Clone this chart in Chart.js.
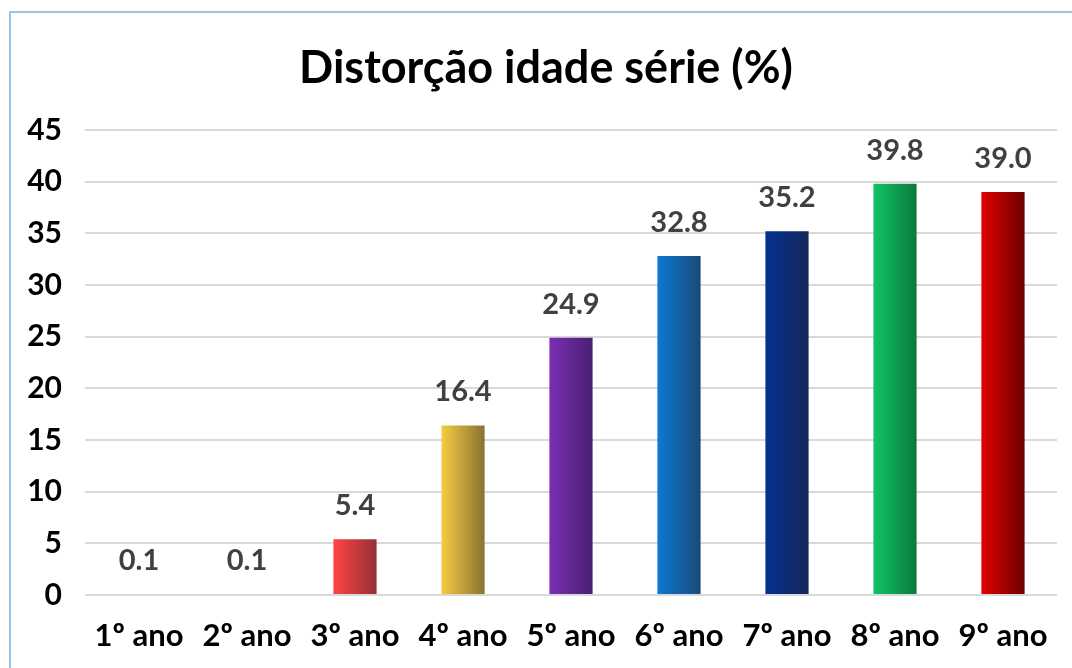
<!DOCTYPE html>
<html>
<head>
<meta charset="utf-8">
<script src="https://cdn.jsdelivr.net/npm/chart.js@4"></script>
<style>
  html, body { margin: 0; padding: 0; background: #fff; }
  #wrap { position: relative; width: 1072px; height: 668px; overflow: hidden; }
  #frame { position: absolute; left: 9px; top: 11px; width: 1100px; height: 700px; border: 2px solid #9dc3e6; box-sizing: border-box; }
  canvas { position: absolute; left: 0; top: 0; }
</style>
</head>
<body>
<div id="wrap">
  <div id="frame"></div>
  <canvas id="chart" width="1072" height="668"></canvas>
</div>
<script>
// chart data
const categories = ["1º ano", "2º ano", "3º ano", "4º ano", "5º ano", "6º ano", "7º ano", "8º ano", "9º ano"];
const values = [0.1, 0.1, 5.4, 16.4, 24.9, 32.8, 35.2, 39.8, 39.0];
const yTicks = [0, 5, 10, 15, 20, 25, 30, 35, 40, 45];

// bar gradient colours (left edge -> right edge)
const lightColors = ["#5b9bd5", "#5b9bd5", "#ff4444", "#f7cb45", "#7b2fb3", "#0a7ad2", "#04318f", "#12c466", "#e00000"];
const darkColors = ["#2e5f8f", "#2e5f8f", "#953034", "#8a7230", "#4a1f70", "#1a4a7a", "#16275c", "#0a7a3c", "#6e0000"];

const FONT = "Lato, 'Open Sans', sans-serif";

function barGradient(context) {
  const chart = context.chart;
  const i = context.dataIndex;
  if (!chart.chartArea || i === undefined) return lightColors[i || 0];
  const xScale = chart.scales.x;
  const cx = xScale.getPixelForValue(i);
  const half = (xScale.width / categories.length) * 0.4 / 2;
  const g = chart.ctx.createLinearGradient(cx - half, 0, cx + half, 0);
  g.addColorStop(0, lightColors[i]);
  g.addColorStop(1, darkColors[i]);
  return g;
}

// draws value labels above bars
const valueLabels = {
  id: "valueLabels",
  afterDatasetsDraw(chart) {
    const ctx = chart.ctx;
    const meta = chart.getDatasetMeta(0);
    ctx.save();
    ctx.font = "bold 29px " + FONT;
    ctx.fillStyle = "#404040";
    ctx.textAlign = "center";
    ctx.textBaseline = "bottom";
    meta.data.forEach((bar, i) => {
      ctx.fillText(values[i].toFixed(1), bar.x, bar.y - 19);
    });
    ctx.restore();
  },
};

// centre the title a bit further right, as in the original
const shiftTitle = {
  id: "shiftTitle",
  afterLayout(chart) {
    if (chart.titleBlock) chart.titleBlock.left += 35;
  },
};

const ctx = document.getElementById("chart").getContext("2d");

new Chart(ctx, {
  type: "bar",
  data: {
    labels: categories,
    datasets: [
      {
        label: "Distorção idade série (%)",
        data: values,
        backgroundColor: barGradient,
        borderWidth: 0,
        barPercentage: 0.4,
        categoryPercentage: 1,
      },
    ],
  },
  options: {
    responsive: false,
    animation: false,
    layout: {
      padding: { left: 0, right: 15, top: 0, bottom: 17 },
    },
    scales: {
      x: {
        afterFit: function (scale) {
          scale.height = 56;
        },
        grid: { display: false, drawTicks: false },
        border: { display: false },
        ticks: {
          color: "#000",
          padding: 22,
          font: { family: FONT, size: 31, weight: "bold" },
        },
      },
      y: {
        min: 0,
        max: 45,
        afterFit: function (scale) {
          scale.width = 85;
        },
        afterBuildTicks: function (scale) {
          scale.ticks = yTicks.map((v) => ({ value: v }));
        },
        grid: { color: "#d9d9d9", lineWidth: 2, drawTicks: false },
        border: { display: false },
        ticks: {
          color: "#000",
          padding: 23,
          font: { family: FONT, size: 30, weight: "bold" },
        },
      },
    },
    plugins: {
      legend: { display: false },
      tooltip: { enabled: false },
      title: {
        display: true,
        text: "Distorção idade série (%)",
        color: "#000",
        font: { family: FONT, size: 45, weight: "bold" },
        padding: { top: 41, bottom: 35 },
      },
    },
  },
  plugins: [valueLabels, shiftTitle],
});
</script>
</body>
</html>
